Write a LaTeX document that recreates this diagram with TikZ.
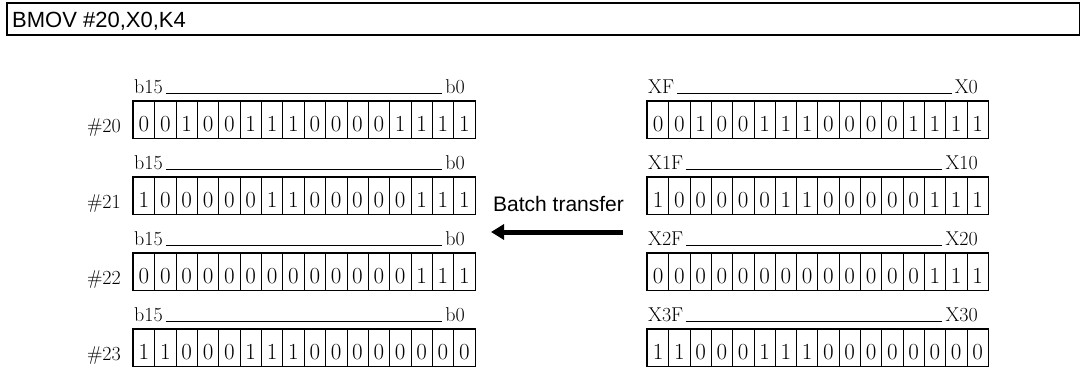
\documentclass[tikz,border=0pt]{standalone}
\usepackage{fontspec}
\newfontfamily\arialfont{Liberation Sans}
\usetikzlibrary{arrows.meta}
\begin{document}
\begin{tikzpicture}[x=1pt,y=-1pt,
  cell/.style={draw, line width=0.7pt, minimum width=21.35pt, minimum height=37pt,
    inner sep=0pt, anchor=north west, font=\fontsize{23}{23}\selectfont,
    text height=24pt, text depth=0pt},
  lab/.style={inner sep=0pt, font=\fontsize{20}{20}\selectfont},
  sans/.style={inner sep=0pt, font=\arialfont\fontsize{21}{21}\selectfont},
  outer/.style={line width=1.3pt},
  rule/.style={line width=0.7pt}]
\useasboundingbox (0,0) rectangle (1080,369);
% header
\node[draw, line width=1.6pt, minimum width=1073pt, minimum height=32pt,
  anchor=north west, inner sep=0pt] (hdr) at (6,2) {};
\node[sans, anchor=base west, font=\arialfont\fontsize{22}{22}\selectfont] (hdrtxt) at (12,28) {BMOV \#20,X0,K4};
% rows
\foreach \r/\bits/\nm/\rl/\rr in {
  0/{0,0,1,0,0,1,1,1,0,0,0,0,1,1,1,1}/\#20/XF/X0,
  1/{1,0,0,0,0,0,1,1,0,0,0,0,0,1,1,1}/\#21/X1F/X10,
  2/{0,0,0,0,0,0,0,0,0,0,0,0,0,1,1,1}/\#22/X2F/X20,
  3/{1,1,0,0,0,1,1,1,0,0,0,0,0,0,0,0}/\#23/X3F/X30}{
  \pgfmathsetmacro\ty{101+76*\r}
  \foreach \b [count=\c from 0] in \bits {
    \node[cell] (L\r-\c) at (133+21.35*\c, \ty) {\b};
    \node[cell] (R\r-\c) at (647+21.3*\c, \ty) {\b};
  }
  \draw[outer] (L\r-0.north west) rectangle (L\r-15.south east);
  \draw[outer] (R\r-0.north west) rectangle (R\r-15.south east);
  \node[lab, anchor=base east] (Ln\r) at (121, \ty+31) {\nm};
  \node[lab, anchor=base west] (Lh\r) at (134, \ty-8) {b15};
  \node[lab, anchor=base east] (Ll\r) at (465, \ty-8) {b0};
  \draw[rule] ([xshift=3pt]Lh\r.base east) -- ([xshift=-3pt]Ll\r.base west);
  \node[lab, anchor=base west] (Rh\r) at (648, \ty-8) {\rl};
  \node[lab, anchor=base east] (Rl\r) at (978, \ty-8) {\rr};
  \draw[rule] ([xshift=3pt]Rh\r.base east) -- ([xshift=-3pt]Rl\r.base west);
}
% transfer arrow
\node[sans, anchor=base west] (bt) at (493,211) {Batch transfer};
\coordinate (as) at (623,232);
\coordinate (ae) at (491,232);
\draw[line width=5pt, -{Triangle[length=13pt,width=15pt]}] (as) -- (ae);
\end{tikzpicture}
\end{document}
